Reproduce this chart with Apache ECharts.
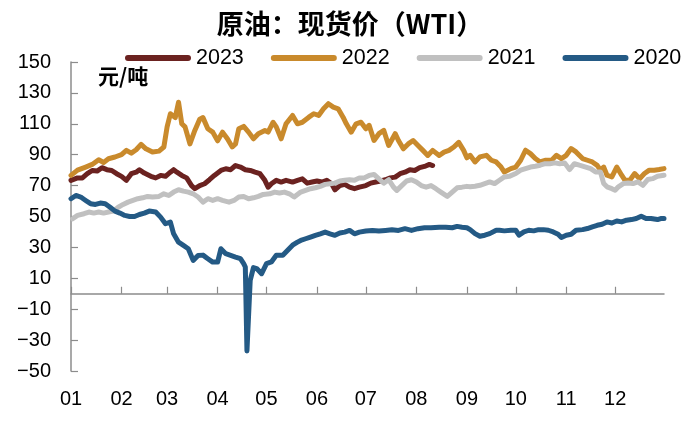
<!DOCTYPE html>
<html><head><meta charset="utf-8">
<script src="https://cdn.jsdelivr.net/npm/echarts@6/dist/echarts.min.js"></script>
<style>html,body{margin:0;padding:0;background:#fff}#c{width:700px;height:422px}</style>
</head><body><div id="c"></div>
<script>
// Day-of-year (0 = Jan 1) and WTI spot price
const seriesNames = ['2023', '2022', '2021', '2020'];
const monthStarts = [0,31,59,90,120,151,181,212,243,273,304,334];
const monthLabels = ['01','02','03','04','05','06','07','08','09','10','11','12'];

const wti2023 = [[0,73.4],[4,75],[7,75],[10,77.7],[13,79.8],[16,79.4],[19,81.6],[22,80.3],[25,79.8],[28,77.7],[31,76],[34,73.4],[37,77.7],[40,78.7],[42,80.3],[45,78.1],[49,76],[52,75],[55,76.6],[58,76],[61,78.7],[63,80.3],[65,78.7],[68,76.6],[71,75],[74,70],[76,68],[79,70],[82,71.2],[85,73.8],[88,76.6],[92,79.8],[95,80.9],[98,80.3],[101,83],[104,82],[107,80.3],[110,79.8],[113,78.7],[116,77.7],[119,73.4],[121,69],[123,71.2],[126,73.4],[129,72.3],[132,73.4],[136,72.3],[139,73.4],[142,74.4],[145,71.6],[148,72.3],[151,73],[154,72.3],[157,73.4],[160,71.2],[162,67.3],[165,70],[168,70.8],[171,69],[174,68],[177,69],[181,70],[184,71.6],[187,72.3],[190,73],[193,73.8],[196,75],[199,75.5],[202,77.7],[205,78.7],[208,80.3],[211,79.8],[214,81.6],[217,82.4],[220,83.7],[222,83]];

const wti2022 = [[0,76.6],[4,80],[9,82],[13,83.7],[17,86.7],[20,85],[23,87.4],[27,88.5],[31,90],[34,92.8],[37,91],[40,93.2],[43,96.7],[46,93.8],[50,91.7],[54,92.3],[57,95],[59,108],[61,116.5],[64,114],[66,124],[68,110],[70,108],[73,97],[76,105.7],[79,113],[81,114],[84,106.8],[87,104.6],[90,99],[93,104.6],[96,100.3],[99,95],[101,97],[103,106.8],[106,108.3],[109,104.6],[112,100.3],[115,103.6],[119,105.7],[121,104.6],[124,111],[126,108],[129,100.3],[132,110],[136,115.4],[139,110],[142,111],[146,114.3],[149,116.5],[152,115.4],[155,119.7],[158,123],[161,120.8],[164,119.7],[167,114.3],[169,110],[172,104.6],[175,110],[178,111],[181,106.8],[183,109],[186,99.2],[189,103.6],[192,105.7],[195,96],[199,103.6],[201,99.2],[204,93.8],[207,97],[210,99.2],[213,96],[216,92.8],[219,89.5],[222,92.8],[226,89.5],[229,91.7],[232,92.8],[235,95],[238,98],[241,92.8],[243,88],[245,89.6],[248,85.3],[251,88.6],[255,89.6],[258,86.4],[261,85.3],[264,82],[266,78.8],[270,81],[273,82],[276,86.4],[279,92.9],[282,90.7],[285,87.5],[288,85.3],[291,86.4],[295,86.4],[298,89.6],[301,87.5],[304,89.6],[307,94],[310,91.8],[314,87.5],[317,86.4],[320,85.3],[323,83.1],[325,80],[327,82],[329,76.7],[332,75.6],[335,82],[338,76.7],[340,73.5],[343,73.5],[346,77.8],[349,74.5],[352,77.8],[355,80],[358,80],[361,80.4],[364,81]];

const wti2021 = [[1,48.5],[4,50.7],[8,51.8],[11,52.9],[14,52.2],[17,52.9],[20,52.2],[23,52.9],[26,53.5],[29,56],[32,57.8],[35,59.3],[38,60.4],[41,61.5],[44,62.1],[47,63],[50,62.6],[54,63],[57,64.7],[60,63.6],[63,65.8],[66,67.3],[69,66.4],[72,65.8],[75,64.7],[78,62.6],[81,59.3],[84,61.5],[87,60.4],[90,61.5],[93,60.4],[97,59.3],[100,60.4],[103,62.6],[106,63],[109,61.5],[112,62.1],[115,63],[118,64.3],[122,64.7],[125,65.8],[128,65.2],[131,65.8],[134,64.7],[137,62.6],[141,65.8],[144,66.9],[147,68],[150,68.6],[153,69.5],[156,70.8],[159,71.2],[162,71.6],[165,73],[168,73.4],[171,73.8],[174,73.4],[177,75],[180,75],[183,76.6],[186,77.2],[189,74.4],[192,71.6],[195,73.8],[198,69],[200,66.9],[203,70],[206,73],[209,73.8],[212,72.3],[215,70],[218,69],[221,70],[224,68],[227,65.8],[231,63],[234,65.8],[237,68.6],[240,69],[243,69.5],[245,69.2],[248,69.6],[251,70.2],[254,71.3],[257,72.4],[260,71.3],[263,73.5],[266,75.6],[269,76],[273,77.8],[276,80],[279,81],[282,82],[285,82.5],[288,83.2],[291,84.2],[294,84.2],[297,84.7],[300,84.2],[303,84.7],[306,80.4],[309,84.2],[312,83.2],[316,82],[319,81],[322,78.8],[325,78.8],[327,71.3],[329,69.2],[332,68],[334,67],[336,69.2],[339,71.3],[342,71.7],[345,71.3],[348,72.4],[351,70.2],[354,73.9],[357,74.5],[360,76],[364,76.7]];

const wti2020 = [[0,61.5],[3,63.6],[6,62.6],[9,60.4],[12,58.3],[15,57.8],[18,58.7],[21,58.3],[24,56],[27,53.5],[30,52.2],[33,50.7],[36,50],[39,50],[42,51.3],[45,52.2],[48,53.5],[52,52.9],[55,49.6],[58,45.3],[61,46.4],[63,38.8],[66,33.4],[69,31.3],[72,29.1],[75,21.6],[78,24.8],[81,25],[84,22.7],[87,20.5],[90,20.5],[92,29.1],[95,25.9],[98,24.8],[101,23.7],[104,22.7],[106,19.5],[107,17.3],[108,-37],[110,8.7],[112,16.9],[114,16.3],[117,13],[120,19.5],[123,20.6],[126,24.9],[130,24.9],[133,28.2],[136,31.4],[139,33.4],[141,34.5],[144,35.6],[147,36.7],[150,37.8],[153,38.8],[156,39.9],[159,38.8],[162,37.8],[165,39.3],[168,39.9],[171,41],[174,38.8],[177,39.9],[181,40.6],[185,41],[189,40.6],[193,41],[197,41.4],[201,41],[205,42.1],[209,41],[213,42.1],[217,42.7],[221,42.7],[226,43.1],[230,43.1],[234,42.7],[237,43.6],[240,43.1],[243,42.7],[245,41.5],[248,38.9],[251,37.2],[254,37.9],[257,38.9],[261,41.1],[263,41.1],[266,40.7],[270,41.1],[273,41.1],[275,37.9],[278,40],[281,41.1],[284,40.7],[287,41.5],[290,41.5],[293,41.1],[296,40],[299,38.5],[301,36.4],[304,37.9],[307,38.5],[310,41.1],[314,41.5],[317,42.2],[320,43.3],[323,44.3],[326,45],[329,46.5],[332,45.8],[335,47.1],[338,46.5],[341,47.6],[344,48],[347,48.7],[350,50.2],[353,48.7],[356,48.7],[360,48],[362,48.7],[364,48.7]];

const seriesData = [wti2023, wti2022, wti2021, wti2020];
const colors = ['#6b2220', '#c98a2c', '#c0c0c0', '#245a85'];

const chart = echarts.init(document.getElementById('c'), null, {renderer: 'canvas'});
const axisColor = '#8c8c8c';
const numFont = "'Liberation Sans', Arial, sans-serif";
chart.setOption({
  animation: false,
  backgroundColor: '#fff',
  title: {
    text: '原油：现货价（WTI）',
    left: 'center', top: 5,
    textStyle: {fontFamily: "'Noto Sans CJK SC'", fontWeight: 'bold', fontSize: 27, color: '#000'}
  },
  legend: {
    data: seriesNames,
    left: 120, top: 42, width: 620,
    itemWidth: 66, itemHeight: 6, itemGap: 27,
    icon: 'path://M3,0 L63,0 A3,3 0 0 1 63,6 L3,6 A3,3 0 0 1 3,0 Z',
    textStyle: {fontFamily: numFont, fontSize: 21.5, color: '#000'}
  },
  graphic: [{
    type: 'text', left: 98, top: 66,
    style: {text: '元/吨', font: "bold 21px 'Noto Sans CJK SC'", fill: '#000'}
  }],
  grid: {left: 71, right: 36, top: 62, bottom: 51, containLabel: false, outerBoundsMode: 'none'},
  xAxis: [{
    type: 'value', min: 0, max: 364, position: 'bottom',
    axisLine: {show: false, onZero: false},
    axisTick: {show: false},
    axisLabel: {
      customValues: monthStarts, margin: 18,
      fontFamily: numFont, fontSize: 20, color: '#000',
      formatter: v => monthLabels[monthStarts.indexOf(v)]
    },
    splitLine: {show: false}
  }, {
    type: 'value', min: 0, max: 364, position: 'bottom',
    axisLine: {show: true, onZero: true, lineStyle: {color: axisColor, width: 1.5}},
    axisTick: {show: true, inside: true, length: 7, customValues: monthStarts, lineStyle: {color: axisColor, width: 1.2}},
    axisLabel: {show: false},
    splitLine: {show: false}
  }],
  yAxis: {
    type: 'value', min: -50, max: 150, interval: 20,
    axisLine: {show: true, lineStyle: {color: axisColor, width: 1.5}},
    axisTick: {show: true, inside: true, length: 7, lineStyle: {color: axisColor, width: 1.2}},
    axisLabel: {
      margin: 20, fontFamily: numFont, fontSize: 20, color: '#000',
      formatter: v => String(v).replace('-', '\u2212')
    },
    splitLine: {show: false}
  },
  series: seriesNames.map((name, i) => ({
    name: name, type: 'line', data: seriesData[i], xAxisIndex: 0,
    showSymbol: false, symbol: 'none',
    color: colors[i],
    lineStyle: {width: 5, color: colors[i], cap: 'round', join: 'round'},
    z: 2 + i
  }))
});
</script>
</body></html>
